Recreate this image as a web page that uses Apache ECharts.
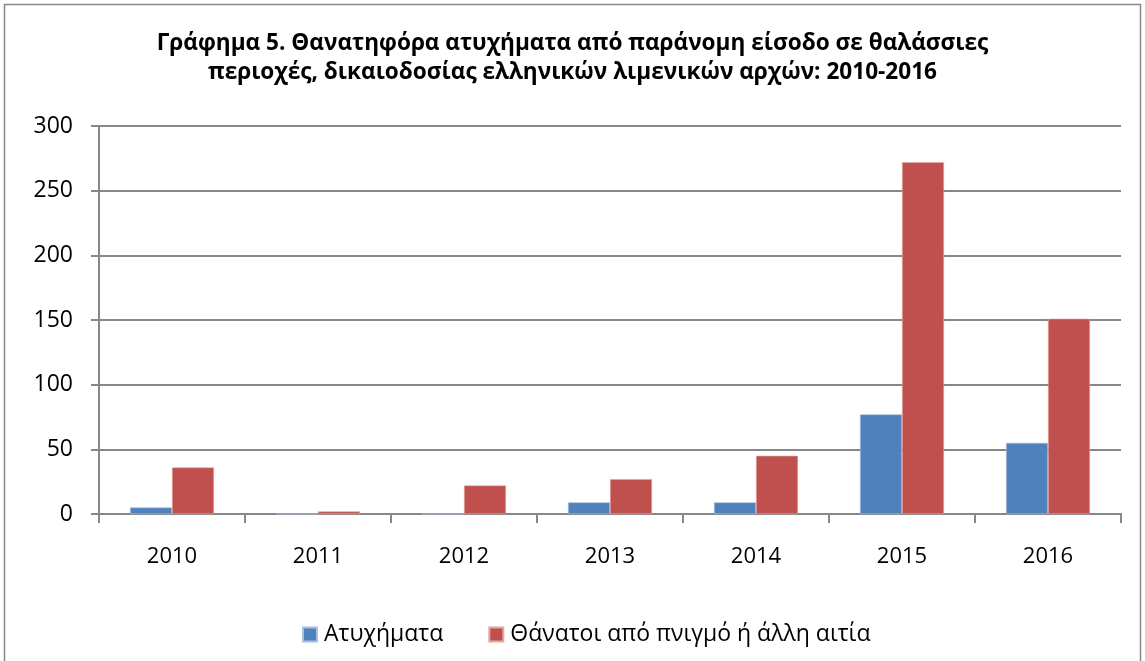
<!DOCTYPE html>
<html>
<head>
<meta charset="utf-8">
<script src="https://cdn.jsdelivr.net/npm/echarts@6/dist/echarts.min.js"></script>
<style>
html,body{margin:0;padding:0;background:#fff;}
#chart{width:1145px;height:661px;}
</style>
</head>
<body>
<div id="chart"></div>
<script>
const titleText = 'Γράφημα 5. Θανατηφόρα ατυχήματα από παράνομη είσοδο σε θαλάσσιες\nπεριοχές, δικαιοδοσίας ελληνικών λιμενικών αρχών: 2010-2016';
const years = ['2010', '2011', '2012', '2013', '2014', '2015', '2016'];
const seriesNames = ['Ατυχήματα', 'Θάνατοι από πνιγμό ή άλλη αιτία'];
const accidents = [5, 0, 0, 9, 9, 77, 55];
const deaths = [36, 2, 22, 27, 45, 272, 151];
const yMin = 0, yMax = 300, yStep = 50;

const font = '"Open Sans", "DejaVu Sans", sans-serif';
const axisColor = '#878787';

const chart = echarts.init(document.getElementById('chart'));
chart.setOption({
  animation: false,
  backgroundColor: '#fff',
  title: {
    text: titleText,
    left: 'center',
    top: 24,
    padding: [5, 5, 5, 17],
    textStyle: {fontFamily: font, fontWeight: 'bold', fontSize: 22.6, lineHeight: 29, color: '#000', align: 'center'}
  },
  graphic: [{
    type: 'rect',
    shape: {x: 4.5, y: 4.5, width: 1136, height: 700},
    style: {fill: 'none', stroke: axisColor, lineWidth: 1.5},
    silent: true
  }],
  legend: {
    bottom: 10,
    left: 297,
    itemWidth: 14,
    itemHeight: 14,
    itemGap: 45,
    icon: 'rect',
    textStyle: {fontFamily: font, fontSize: 23, color: '#000', padding: [0, 0, 0, 2]},
    data: seriesNames
  },
  grid: {left: 99, right: 24, top: 126, bottom: 147, containLabel: false},
  xAxis: {
    type: 'category',
    data: years,
    boundaryGap: true,
    axisLine: {lineStyle: {color: axisColor, width: 2}},
    axisTick: {show: true, length: 9, lineStyle: {color: axisColor, width: 2}},
    axisLabel: {margin: 32, fontFamily: font, fontSize: 22, color: '#000'}
  },
  yAxis: {
    type: 'value',
    min: yMin, max: yMax, interval: yStep,
    axisLine: {show: true, lineStyle: {color: axisColor, width: 2}},
    axisTick: {show: true, length: 8, lineStyle: {color: axisColor, width: 2}},
    splitLine: {lineStyle: {color: axisColor, width: 2}},
    axisLabel: {margin: 26, fontFamily: font, fontSize: 23, color: '#000'}
  },
  series: [
    {name: seriesNames[0], type: 'bar', data: accidents, barWidth: 42, barGap: '0%',
     itemStyle: {color: '#4F81BD', borderColor: '#a9c0de', borderWidth: 0.6}},
    {name: seriesNames[1], type: 'bar', data: deaths, barWidth: 42, barGap: '0%',
     itemStyle: {color: '#C0504D', borderColor: '#e0a8a6', borderWidth: 0.6}}
  ]
});
</script>
</body>
</html>
